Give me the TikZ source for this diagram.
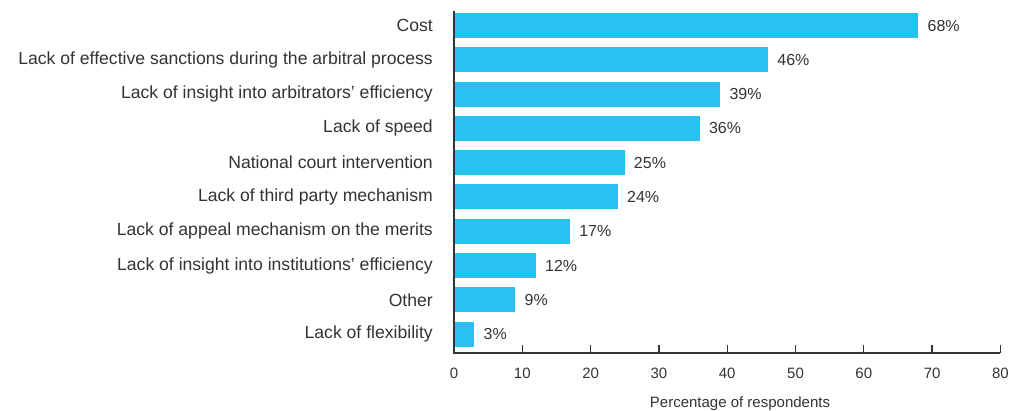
\documentclass[tikz,border=0pt]{standalone}
\usepackage{fontspec}
\setmainfont{Liberation Sans}
\usetikzlibrary{
    arrows.meta,             % For modern arrow tips
    positioning,             % For relative placement of nodes
    calc                     % For coordinate calculations
}
\definecolor{barblue}{HTML}{29C1F0}
\definecolor{inkgray}{HTML}{333333}
\tikzset{
    bar/.style={fill=barblue, draw=none},
    catlabel/.style={anchor=east, inner sep=0pt, text=inkgray, font=\fontsize{17.6}{19}\selectfont},
    vallabel/.style={anchor=west, inner sep=0pt, text=inkgray, font=\fontsize{16}{18}\selectfont},
    ticklabel/.style={inner sep=0pt, text=inkgray, font=\fontsize{15}{17}\selectfont},
    axisline/.style={draw=inkgray, line width=1.3pt}
}
\begin{document}
\begin{tikzpicture}[
    x=1pt, y=-1pt
]
    \useasboundingbox (0,0) rectangle (1011,411);

    % --- The Bars ---
    \foreach \val/\txt [count=\i from 0] in {
        68/Cost,
        46/Lack of effective sanctions during the arbitral process,
        39/Lack of insight into arbitrators’ efficiency,
        36/Lack of speed,
        25/National court intervention,
        24/Lack of third party mechanism,
        17/Lack of appeal mechanism on the merits,
        12/Lack of insight into institutions’ efficiency,
        9/Other,
        3/Lack of flexibility}
    {
        \pgfmathsetmacro{\top}{13+34.3*\i}
        \pgfmathsetmacro{\len}{6.83*\val}
        \path[bar] (454,\top) rectangle ++(\len,25) coordinate (end-\i);
        \node[catlabel] (cat-\i) at (433,\top+12.5) {\txt};
        \node[vallabel] (val-\i) at ($(454+\len,\top+12.5)+(9,0)$) {\val\%};
    }

    % --- The Axes ---
    \coordinate (origin) at (454,353);
    \coordinate (ytop) at (454,11);
    \coordinate (xend) at (1000,353);
    \draw[axisline] (ytop) -- (origin) -- (xend);

    % --- Ticks and tick labels ---
    \foreach \t in {0,10,...,80} {
        \pgfmathsetmacro{\tx}{454+6.83*\t}
        \ifnum\t>0
            \draw[axisline] (\tx,353) -- (\tx,345);
        \fi
        \node[ticklabel] (tick-\t) at (\tx,373) {\t};
    }

    \node[ticklabel] (xlabel) at (740,404) {Percentage of respondents};
\end{tikzpicture}
\end{document}
